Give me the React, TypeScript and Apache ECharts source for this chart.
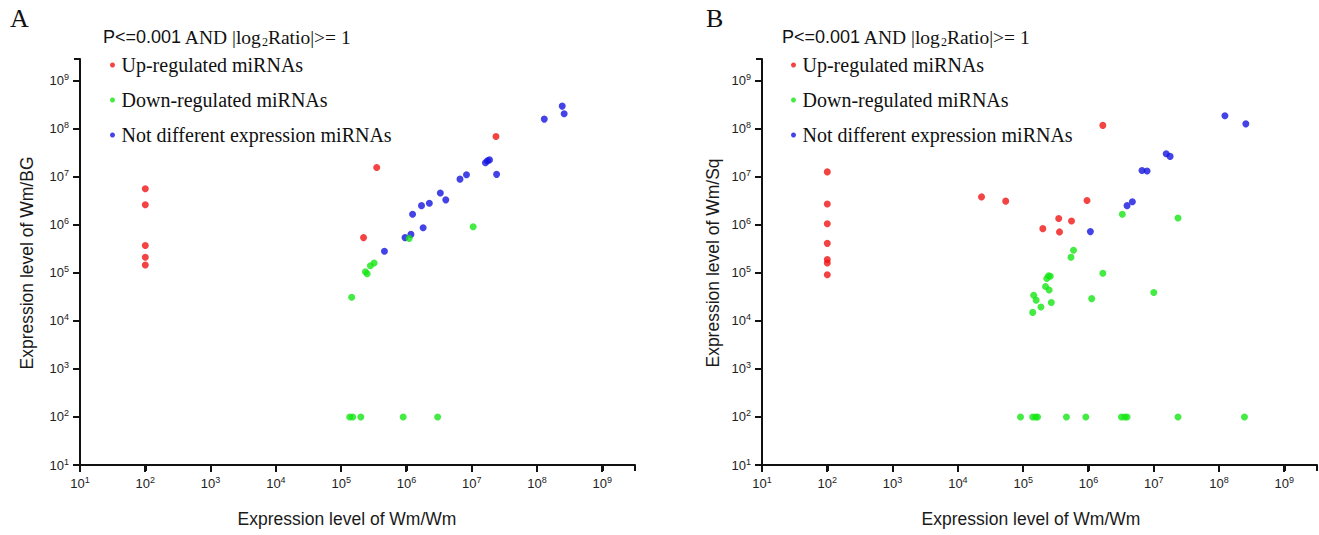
import React, { useEffect, useRef } from "react";
import * as echarts from "echarts";

// ---------- data (x = Wm/Wm, y = Wm/BG or Wm/Sq) ----------
const tickExponents = [1, 2, 3, 4, 5, 6, 7, 8, 9];
const seriesNames = ["Up-regulated miRNAs", "Down-regulated miRNAs", "Not different expression miRNAs"];
const seriesColors = ["#f01414", "#14e614", "#1414e0"];
const criterionLeft = "P<=0.001";
const criterionMid = " AND |log";
const criterionSub = "2";
const criterionRight = "Ratio|>= 1";

const upA: [number, number][] = [
  [100, 5.6e6], [100, 2.6e6], [100, 3.7e5], [100, 2.1e5], [100, 1.45e5],
  [2.35e7, 6.9e7], [3.5e5, 1.55e7], [2.2e5, 5.4e5],
];
const downA: [number, number][] = [
  [1.1e6, 5.2e5], [1.05e7, 9.1e5], [3.2e5, 1.6e5], [2.8e5, 1.4e5], [2.35e5, 1.05e5],
  [2.5e5, 9.6e4], [1.45e5, 3.1e4],
  [1.35e5, 100], [1.5e5, 100], [2.0e5, 100], [8.9e5, 100], [3.0e6, 100],
];
const notA: [number, number][] = [
  [2.43e8, 2.95e8], [2.6e8, 2.05e8], [1.29e8, 1.58e8], [1.62e7, 1.95e7], [1.74e7, 2.14e7],
  [1.87e7, 2.24e7], [2.4e7, 1.12e7], [6.6e6, 8.9e6], [8.3e6, 1.1e7], [3.3e6, 4.6e6],
  [4.0e6, 3.3e6], [1.7e6, 2.5e6], [2.24e6, 2.8e6], [1.24e6, 1.65e6], [1.8e6, 8.7e5],
  [9.5e5, 5.4e5], [1.17e6, 6.3e5], [4.6e5, 2.8e5],
];

const upB: [number, number][] = [
  [100, 1.26e7], [100, 2.7e6], [100, 1.05e6], [100, 4.1e5], [100, 1.9e5], [100, 1.6e5], [100, 9.1e4],
  [2.3e4, 3.8e6], [5.4e4, 3.1e6], [1.66e6, 1.17e8], [9.5e5, 3.2e6], [3.5e5, 1.35e6],
  [5.5e5, 1.2e6], [2.0e5, 8.3e5], [3.6e5, 7.1e5],
];
const downB: [number, number][] = [
  [3.3e6, 1.66e6], [2.35e7, 1.38e6], [5.9e5, 2.95e5], [5.4e5, 2.1e5], [2.45e5, 8.7e4],
  [2.3e5, 7.6e4], [2.6e5, 8.5e4], [2.2e5, 5.2e4], [2.5e5, 4.4e4], [1.66e6, 9.8e4],
  [1.0e7, 3.9e4], [1.12e6, 2.9e4], [1.45e5, 3.4e4], [1.58e5, 2.7e4], [1.87e5, 1.95e4],
  [2.7e5, 2.4e4], [1.4e5, 1.5e4],
  [9.1e4, 100], [1.4e5, 100], [1.55e5, 100], [1.66e5, 100], [4.6e5, 100], [9.1e5, 100],
  [3.2e6, 100], [3.6e6, 100], [3.9e6, 100], [2.35e7, 100], [2.45e8, 100],
];
const notB: [number, number][] = [
  [1.23e8, 1.86e8], [2.57e8, 1.26e8], [1.55e7, 3.0e7], [1.78e7, 2.65e7], [6.6e6, 1.35e7],
  [7.9e6, 1.32e7], [3.9e6, 2.5e6], [4.7e6, 3.0e6], [1.07e6, 7.2e5],
];

const panels = [
  { letter: "A", yName: "Expression level of Wm/BG", xName: "Expression level of Wm/Wm", up: upA, down: downA, not: notA },
  { letter: "B", yName: "Expression level of Wm/Sq", xName: "Expression level of Wm/Wm", up: upB, down: downB, not: notB },
];

// ---------- layout ----------
const gridLefts = [80, 762];
const gridTop = 59;
const gridWidth = 555;
const gridHeight = 406;
const xMaxExp = 9.5;
const yMaxExp = 9.45;
const legendLefts = [105, 786];
const titleLefts = [98, 777];
const letterLefts = [5, 701];
const xNameX = [347, 1031];
const yNameX = [27, 713];

const tickValues = tickExponents.map((e) => Math.pow(10, e));
const sans = "Liberation Sans";
const serif = "Liberation Serif";
const axisColor = "#111";

function richLabel(v: number) {
  const e = Math.round(Math.log10(v));
  return `{b|10}{s|${e}}`;
}

function makeAxis(i: number, maxExp: number, margin: number) {
  return {
    type: "log",
    gridIndex: i,
    min: 10,
    max: Math.pow(10, maxExp),
    axisLine: { show: true, lineStyle: { color: axisColor, width: 2 } },
    axisTick: { show: true, length: 6, lineStyle: { color: axisColor, width: 2 } },
    splitLine: { show: false },
    axisLabel: {
      customValues: tickValues,
      formatter: richLabel,
      margin,
      rich: {
        b: { fontFamily: sans, fontSize: 13, color: "#222" },
        s: { fontFamily: sans, fontSize: 9, color: "#222", padding: [0, 0, 7, 0] },
      },
    },
  };
}

export default function App() {
  const ref = useRef<HTMLDivElement>(null);
  useEffect(() => {
    if (!ref.current) return;
    const chart = echarts.init(ref.current, null, { renderer: "svg" });
    const titleRich = {
      a: { fontFamily: sans, fontSize: 18, fontWeight: "normal", color: "#111" },
      t: { fontFamily: serif, fontSize: 19.5, fontWeight: "normal", color: "#111" },
      sub: { fontFamily: serif, fontSize: 12, fontWeight: "normal", color: "#111", padding: [10, 0, 0, 0] },
    };
    const critText = `{a|${criterionLeft}}{t|${criterionMid}}{sub|${criterionSub}}{t|${criterionRight}}`;

    const grids: any[] = [];
    const xAxes: any[] = [];
    const yAxes: any[] = [];
    const series: any[] = [];
    const titles: any[] = [];
    const legends: any[] = [];
    const graphics: any[] = [];

    panels.forEach((p, i) => {
      grids.push({ left: gridLefts[i], top: gridTop, width: gridWidth, height: gridHeight });
      xAxes.push(makeAxis(i, xMaxExp, 10));
      yAxes.push(makeAxis(i, yMaxExp, 11));
      const groups = [p.not, p.down, p.up];
      const idx = [2, 1, 0];
      groups.forEach((d, k) => {
        series.push({
          type: "scatter",
          name: seriesNames[idx[k]],
          xAxisIndex: i,
          yAxisIndex: i,
          data: d,
          symbol: "circle",
          symbolSize: 7,
          itemStyle: { color: seriesColors[idx[k]] },
        });
      });
      titles.push({
        text: p.letter,
        left: letterLefts[i],
        top: 0,
        textStyle: { fontFamily: serif, fontSize: 26, fontWeight: "normal", color: "#111" },
      });
      titles.push({
        text: critText,
        left: titleLefts[i],
        top: 21,
        textStyle: { fontWeight: "normal", rich: titleRich },
      });
      legends.push({
        orient: "vertical",
        left: legendLefts[i],
        top: 50,
        itemWidth: 8,
        itemHeight: 5,
        itemGap: 15,
        icon: "circle",
        selectedMode: false,
        data: seriesNames.map((n, k) => ({ name: n, itemStyle: { color: seriesColors[k] } })),
        textStyle: { fontFamily: serif, fontSize: 20, lineHeight: 20, color: "#111" },
      });
      graphics.push({
        type: "text",
        x: xNameX[i],
        y: 519,
        style: { text: p.xName, fontFamily: sans, fontSize: 17.5, fill: "#1a1a1a", align: "center", verticalAlign: "middle" },
      });
      graphics.push({
        type: "text",
        x: yNameX[i],
        y: 263,
        rotation: Math.PI / 2,
        style: { text: p.yName, fontFamily: sans, fontSize: 17.5, fill: "#1a1a1a", align: "center", verticalAlign: "middle" },
      });
    });

    chart.setOption({
      animation: false,
      title: titles,
      legend: legends,
      grid: grids,
      xAxis: xAxes,
      yAxis: yAxes,
      series,
    });

    // axis bars and ticks as filled rectangles, positioned through the chart's own log scales
    panels.forEach((_, i) => {
      const origin = chart.convertToPixel({ gridIndex: i }, [10, 10]) as number[];
      const xEnd = chart.convertToPixel({ gridIndex: i }, [Math.pow(10, xMaxExp), 10]) as number[];
      const yEnd = chart.convertToPixel({ gridIndex: i }, [10, Math.pow(10, yMaxExp)]) as number[];
      if (!origin || !xEnd || !yEnd) return;
      const fill = { fill: axisColor };
      const ox = Math.round(origin[0]);
      const oy = Math.round(origin[1]);
      graphics.push({ type: "rect", silent: true, z: 50, shape: { x: ox - 1, y: oy - 1, width: Math.round(xEnd[0]) - ox + 1, height: 2 }, style: fill });
      graphics.push({ type: "rect", silent: true, z: 50, shape: { x: ox - 1, y: Math.round(yEnd[1]), width: 2, height: oy - Math.round(yEnd[1]) + 1 }, style: fill });
      tickValues.forEach((v) => {
        const px = chart.convertToPixel({ gridIndex: i }, [v, 10]) as number[];
        const py = chart.convertToPixel({ gridIndex: i }, [10, v]) as number[];
        graphics.push({ type: "rect", silent: true, z: 50, shape: { x: Math.round(px[0]) - 1, y: oy, width: 2, height: 7 }, style: fill });
        graphics.push({ type: "rect", silent: true, z: 50, shape: { x: ox - 7, y: Math.round(py[1]) - 1, width: 7, height: 2 }, style: fill });
      });
    });

    chart.setOption({ graphic: graphics });
    return () => chart.dispose();
  }, []);
  return (
    <div
      ref={ref}
      style={{ position: "fixed", left: 0, top: 0, width: 1319, height: 535, background: "#fff" }}
    />
  );
}
